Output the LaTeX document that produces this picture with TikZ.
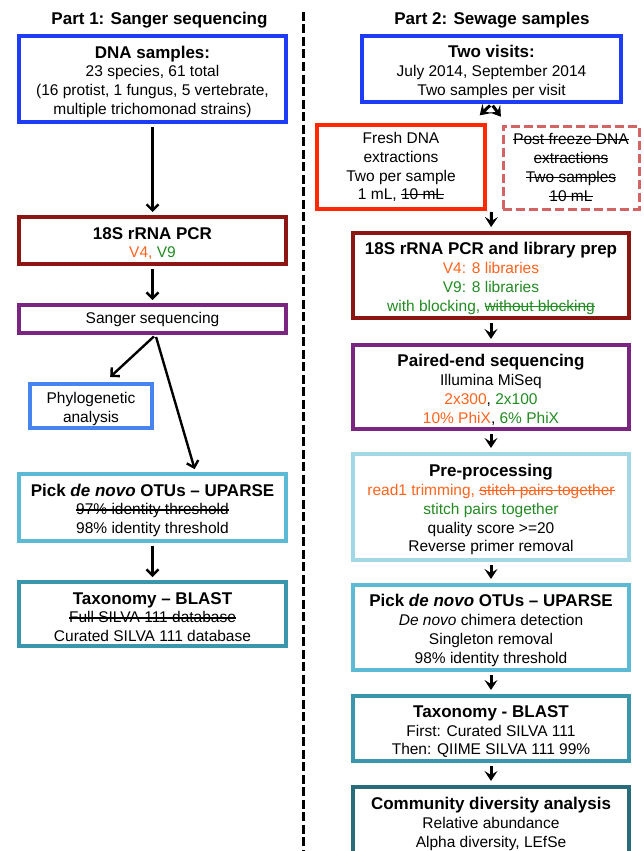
\documentclass[tikz,border=0pt]{standalone}
\usepackage{fontspec}
\setmainfont{Liberation Sans}
\usepackage{tikz}
\usetikzlibrary{arrows.meta}
\usetikzlibrary{calc}

\definecolor{sampleblue}{RGB}{30,60,245}
\definecolor{pcrred}{RGB}{140,22,18}
\definecolor{seqpurple}{RGB}{122,38,128}
\definecolor{phyloblue}{RGB}{72,132,240}
\definecolor{otucyan}{RGB}{92,186,212}
\definecolor{taxteal}{RGB}{58,150,172}
\definecolor{freshred}{RGB}{255,40,0}
\definecolor{freezered}{RGB}{210,100,100}
\definecolor{precyan}{RGB}{162,216,230}
\definecolor{commteal}{RGB}{40,108,124}
\definecolor{vorange}{RGB}{255,100,30}
\definecolor{vgreen}{RGB}{34,140,34}

\newcommand{\up}{\rule{0pt}{18pt}}
\newcommand{\hd}[1]{{\up\fontsize{17}{19}\selectfont\bfseries #1}}
\newcommand{\ora}[1]{\textcolor{vorange}{#1}}
\newcommand{\grn}[1]{\textcolor{vgreen}{#1}}
% struck-out text
\newsavebox{\strkbox}
\newcommand{\strk}[1]{\sbox{\strkbox}{#1}\usebox{\strkbox}%
	\llap{\rule[0.28em]{\wd\strkbox}{1.1pt}}}

\begin{document}
\begin{tikzpicture}[x=1pt,y=-1pt,
	box/.style={draw,rectangle,line width=4pt,align=center,inner sep=0pt,
		font=\fontsize{15.5}{18.8}\selectfont},
	down/.style={-{Straight Barb[length=6pt,width=12pt]},line width=2.4pt,
		shorten <=3pt,shorten >=3pt},
	small/.style={-{Stealth[length=10pt,width=13pt,inset=4pt]},line width=3pt,
		shorten <=3pt,shorten >=4pt},
	title/.style={font=\fontsize{17}{19}\selectfont\bfseries},
	]
	\clip (0,0) rectangle (644,851);
	\fill[white] (0,0) rectangle (644,851);

	% Titles and divider
	% ------------------
	\node[title] (T1) at (159.5,20) {Part 1: Sanger sequencing};
	\node[title] (T2) at (492,20) {Part 2: Sewage samples};
	\draw[line width=3pt,dash pattern=on 9pt off 3.5pt] (303,12) -- (303,851);

	% Part 1
	% ------
	\node[box,draw=sampleblue,minimum width=267pt,minimum height=86pt]
		(DNA) at (152.5,79) {\hd{DNA samples:}\\23 species, 61 total\\
		(16 protist, 1 fungus, 5 vertebrate,\\multiple trichomonad strains)};
	\node[box,draw=pcrred,minimum width=267pt,minimum height=47pt]
		(PCR) at (152.5,240.5) {\hd{18S rRNA PCR}\\\ora{V4,} \grn{V9}};
	\node[box,draw=seqpurple,minimum width=267pt,minimum height=28pt]
		(Sanger) at (152.5,319) {Sanger sequencing};
	\node[box,draw=phyloblue,minimum width=122pt,minimum height=44pt]
		(Phylo) at (91,406) {\up Phylogenetic\\analysis};
	\node[box,draw=otucyan,minimum width=267pt,minimum height=67pt]
		(OTUa) at (152.5,507.5) {\hd{Pick \textit{de novo} OTUs -- UPARSE}\\
		\strk{97\% identity threshold}\\98\% identity threshold};
	\node[box,draw=taxteal,minimum width=267pt,minimum height=64pt]
		(TAXa) at (152.5,614) {\hd{Taxonomy -- BLAST}\\
		\strk{Full SILVA 111 database}\\Curated SILVA 111 database};

	\draw[down] (DNA) -- (PCR);
	\draw[down] (PCR) -- (Sanger);
	\coordinate (split) at ([xshift=3pt]Sanger.south);
	\draw[down,shorten <=2pt] (split) -- ([xshift=17pt,yshift=3pt]Phylo.north);
	\draw[down,shorten <=2pt] (split) -- ([xshift=43pt]OTUa.north);
	\draw[down] (OTUa) -- (TAXa);

	% Part 2
	% ------
	\node[box,draw=sampleblue,minimum width=259pt,minimum height=66pt]
		(Visits) at (491.5,69) {\hd{Two visits:}\\July 2014, September 2014\\
		Two samples per visit};
	\node[box,draw=freshred,minimum width=168pt,minimum height=84pt]
		(Fresh) at (401,167) {Fresh DNA\\extractions\\Two per sample\\
		1 mL, \strk{10 mL}};
	\node[box,draw=freezered,line width=3pt,dash pattern=on 9pt off 4pt,
		  minimum width=136pt,minimum height=83pt]
		(Freeze) at (571,167.5) {\strk{Post freeze DNA}\\\strk{extractions}\\
		\strk{Two samples}\\\strk{10 mL}};
	\node[box,draw=pcrred,minimum width=276pt,minimum height=85pt]
		(Lib) at (491,275.5) {\hd{18S rRNA PCR and library prep}\\
		\ora{V4: 8 libraries}\\\grn{V9: 8 libraries}\\
		\grn{with blocking, \strk{without blocking}}};
	\node[box,draw=seqpurple,minimum width=276pt,minimum height=84pt]
		(Paired) at (491,387) {\hd{Paired-end sequencing}\\Illumina MiSeq\\
		\ora{2x300}, \grn{2x100}\\\ora{10\% PhiX}, \grn{6\% PhiX}};
	\node[box,draw=precyan,minimum width=276pt,minimum height=106pt]
		(Pre) at (491,507) {\hd{Pre-processing}\\
		\ora{read1 trimming, \strk{stitch pairs together}}\\
		\grn{stitch pairs together}\\quality score >=20\\Reverse primer removal};
	\node[box,draw=otucyan,minimum width=276pt,minimum height=85pt]
		(OTUb) at (491,627.5) {\hd{Pick \textit{de novo} OTUs -- UPARSE}\\
		\textit{De novo} chimera detection\\Singleton removal\\
		98\% identity threshold};
	\node[box,draw=taxteal,minimum width=276pt,minimum height=65pt]
		(TAXb) at (491,728.5) {\hd{Taxonomy - BLAST}\\First: Curated SILVA 111\\
		Then: QIIME SILVA 111 99\%};
	\node[box,draw=commteal,minimum width=276pt,minimum height=68pt]
		(Comm) at (491,821) {\hd{Community diversity analysis}\\
		Relative abundance\\Alpha diversity, LEfSe};

	\draw[small,shorten <=2pt,shorten >=1pt] (Visits.south) -- ([xshift=-8pt,yshift=7pt]Fresh.north east);
	\draw[small,shorten <=2pt,shorten >=1pt] (Visits.south) -- ([xshift=0pt,yshift=7pt]Freeze.north west);
	\draw[small,shorten <=1pt] (Visits.south|-Fresh.south) -- (Lib.north);
	\draw[small] (Lib) -- (Paired);
	\draw[small] (Paired) -- (Pre);
	\draw[small] (Pre) -- (OTUb);
	\draw[small] (OTUb) -- (TAXb);
	\draw[small] (TAXb) -- (Comm);
\end{tikzpicture}
\end{document}
